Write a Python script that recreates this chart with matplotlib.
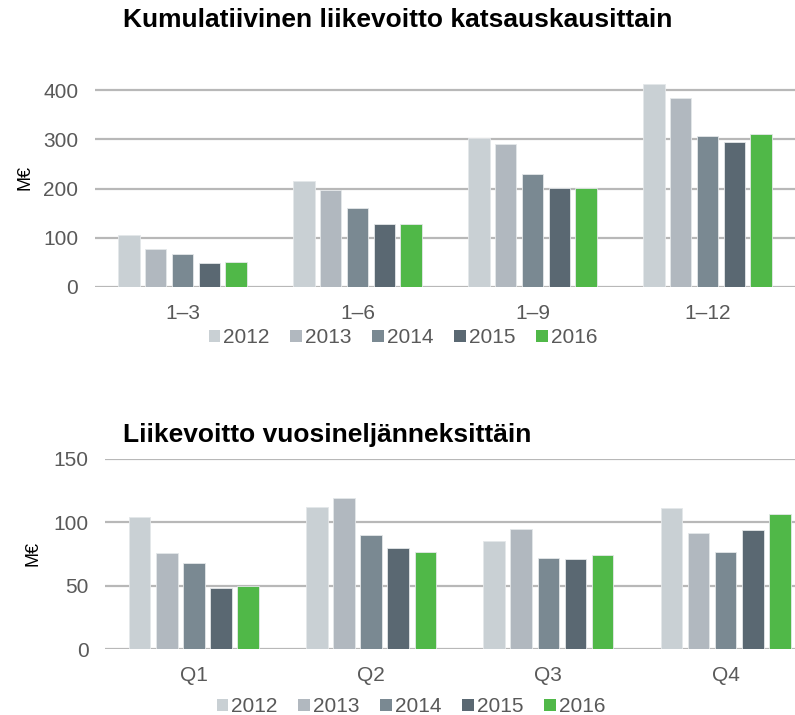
import numpy as np
import matplotlib
matplotlib.use("Agg")
import matplotlib.pyplot as plt
from matplotlib.patches import Patch

plt.rcParams['font.family'] = ['Liberation Sans', 'DejaVu Sans']

years = ['2012', '2013', '2014', '2015', '2016']
colors = ['#C9D0D4', '#B1B8BF', '#7A8992', '#5A6872', '#50B848']

periods = ['1–3', '1–6', '1–9', '1–12']
cumulative = {
    '2012': [105, 216, 302, 413],
    '2013': [77, 197, 290, 383],
    '2014': [68, 160, 229, 307],
    '2015': [48, 128, 201, 295],
    '2016': [51, 128, 201, 310],
}

quarters = ['Q1', 'Q2', 'Q3', 'Q4']
quarterly = {
    '2012': [104, 112, 85, 111],
    '2013': [76, 119, 95, 92],
    '2014': [68, 90, 72, 77],
    '2015': [48, 80, 71, 94],
    '2016': [50, 77, 74, 107],
}

W, H = 795, 715
fig = plt.figure(figsize=(W / 100, H / 100), dpi=100)

grey_txt = '#595959'
grid_c = '#B8B8B8'


def draw(ax, cats, data, ylim, yticks):
    x = np.arange(len(cats))
    pitch = 0.153
    width = 0.122
    for i, y in enumerate(years):
        ax.bar(x + (i - 2) * pitch, data[y], width, color=colors[i],
               edgecolor='#E4E7E9', linewidth=0.6, zorder=3)
    ax.set_xlim(-0.5, len(cats) - 0.5)
    ax.set_ylim(*ylim)
    ax.set_yticks(yticks)
    ax.set_xticks(x)
    ax.set_xticklabels(cats)
    for s in ax.spines.values():
        s.set_visible(False)
    ax.yaxis.grid(True, color=grid_c, linewidth=1.6, zorder=0)
    ax.set_axisbelow(True)
    ax.tick_params(axis='both', length=0, labelsize=15, colors=grey_txt)
    ax.tick_params(axis='x', pad=12)
    ax.tick_params(axis='y', pad=12)


# top chart
ax1 = fig.add_axes([95 / W, 1 - 287 / H, 700 / W, 221.6 / H])
draw(ax1, periods, cumulative, (0, 450), [0, 100, 200, 300, 400])

# bottom chart
ax2 = fig.add_axes([105.3 / W, 1 - 649.3 / H, 709 / W, 190.3 / H])
draw(ax2, quarters, quarterly, (0, 150), [0, 50, 100, 150])

fig.text(398 / W, 1 - 20 / H, 'Kumulatiivinen liikevoitto katsauskausittain',
         ha='center', va='center', fontsize=19, fontweight='bold')
fig.text(123 / W, 1 - 435 / H, 'Liikevoitto vuosineljänneksittäin',
         ha='left', va='center', fontsize=19, fontweight='bold')

fig.text(25 / W, 1 - 177 / H, 'M€', rotation=90, ha='center', va='center', fontsize=13)
fig.text(33 / W, 1 - 553 / H, 'M€', rotation=90, ha='center', va='center', fontsize=13)

handles = [Patch(facecolor=c, edgecolor='none') for c in colors]
for yc, xc in [(338, 403), (707, 411)]:
    fig.legend(handles, years, loc='center', bbox_to_anchor=(xc / W, 1 - yc / H),
               ncol=5, frameon=False, fontsize=15, handlelength=0.55, handleheight=0.55,
               handletextpad=0.15, columnspacing=1.0, labelcolor=grey_txt,
               borderpad=0, borderaxespad=0)

fig.savefig('out.png', dpi=100)
